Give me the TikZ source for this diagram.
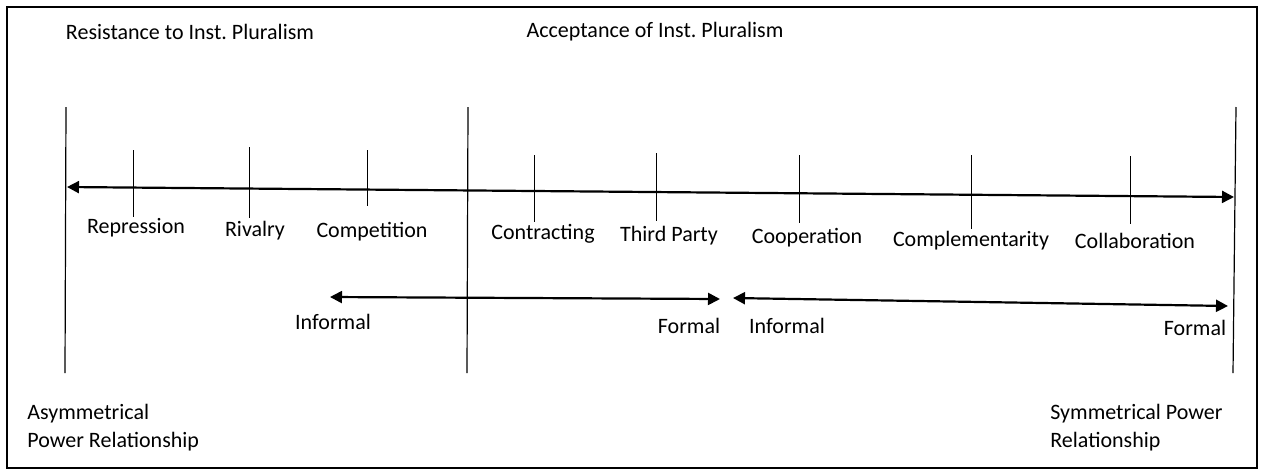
\documentclass[tikz,border=0pt]{standalone}
\usepackage{fontspec}
\setmainfont{Carlito}
\usetikzlibrary{arrows.meta}
\frenchspacing

\begin{document}
\begin{tikzpicture}[x=0.5pt, y=-0.5pt,
    every node/.style={font=\fontsize{11}{14}\selectfont, inner sep=0pt},
    divider/.style={line width=0.6pt},
    tickmark/.style={line width=0.5pt},
    twoway/.style={line width=1.1pt, {Triangle[length=6pt,width=6pt]}-{Triangle[length=6pt,width=6pt]}}]
    \useasboundingbox (0, 0) rectangle (1264, 472);
    \draw[line width=1pt] (7, 7) rectangle (1257, 468);

    % headings
    \node (resist) at (190, 32) {Resistance to Inst. Pluralism};
    \node (accept) at (655, 32) {Acceptance of Inst. Pluralism};

    % dividers
    \draw[divider] (66, 107) -- (65, 373);
    \draw[divider] (468, 107) -- (467, 373);
    \draw[divider] (1236, 107) -- (1233, 373);

    % main scale
    \coordinate (scaleL) at (67, 187);
    \coordinate (scaleR) at (1234, 197);
    \draw[twoway] (scaleL) -- (scaleR);

    \foreach \tx/\ttop/\tbot/\lx/\ly/\nm/\txt in {
        133/150/217/136/228/rep/Repression,
        249/147/218/255/231/riv/Rivalry,
        367/150/206/372/232/comp/Competition,
        534/155/222/543/234/contr/Contracting,
        656/153/221/669/236/third/Third Party,
        799/155/223/807/238/coop/Cooperation,
        971/155/229/971/241/compl/Complementarity,
        1130/156/224/1135/241/coll/Collaboration} {
        \draw[tickmark] (\tx, \ttop) -- (\tx, \tbot);
        \node (\nm) at (\lx, \ly) {\txt};
    }

    % informal -> formal
    \coordinate (infA) at (330, 297);
    \coordinate (forA) at (720, 299);
    \coordinate (infB) at (733, 298);
    \coordinate (forB) at (1228, 306);
    \draw[twoway] (infA) -- (forA);
    \draw[twoway] (infB) -- (forB);
    \node (infAlab) at (333, 322) {Informal};
    \node (forAlab) at (689, 326) {Formal};
    \node (infBlab) at (787, 326) {Informal};
    \node (forBlab) at (1195, 328) {Formal};

    % power relationship
    \node[anchor=north west, align=left] (asym) at (27, 404) {Asymmetrical\\Power Relationship};
    \node[anchor=north west, align=left] (sym) at (1050, 404) {Symmetrical Power\\Relationship};
\end{tikzpicture}
\end{document}
